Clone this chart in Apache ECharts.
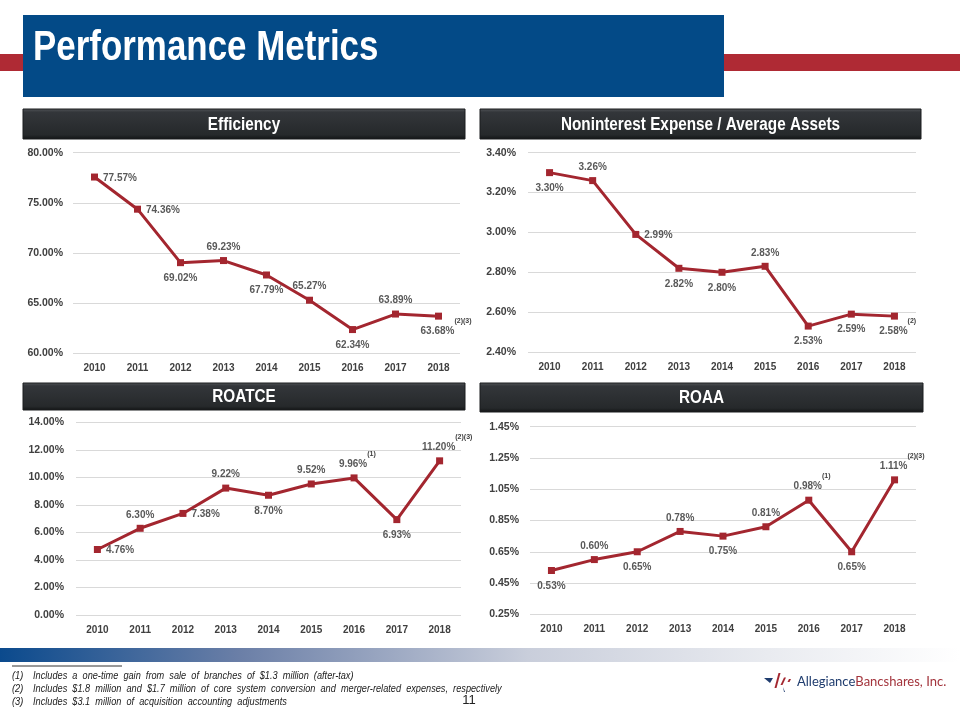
<!DOCTYPE html>
<html>
<head>
<meta charset="utf-8">
<script src="https://cdn.jsdelivr.net/npm/echarts@6/dist/echarts.min.js"></script>
<style>html,body{margin:0;padding:0;background:#fff}#c{width:960px;height:720px}</style>
</head>
<body>
<div id="c"></div>
<script>
// ---------------- DATA ----------------
const years = ['2010', '2011', '2012', '2013', '2014', '2015', '2016', '2017', '2018'];

const efficiency    = [77.57, 74.36, 69.02, 69.23, 67.79, 65.27, 62.34, 63.89, 63.68];
const nonintExpense = [3.30, 3.26, 2.99, 2.82, 2.80, 2.83, 2.53, 2.59, 2.58];
const roatce        = [4.76, 6.30, 7.38, 9.22, 8.70, 9.52, 9.96, 6.93, 11.20];
const roaa          = [0.53, 0.60, 0.65, 0.78, 0.75, 0.81, 0.98, 0.65, 1.11];

const efficiencyNotes = ['', '', '', '', '', '', '', '', '(2)(3)'];
const nonintNotes     = ['', '', '', '', '', '', '', '', '(2)'];
const roatceNotes     = ['', '', '', '', '', '', '(1)', '', '(2)(3)'];
const roaaNotes       = ['', '', '', '', '', '', '(1)', '', '(2)(3)'];

const efficiencyTicks = [60, 65, 70, 75, 80];
const nonintTicks     = [2.40, 2.60, 2.80, 3.00, 3.20, 3.40];
const roatceTicks     = [0, 2, 4, 6, 8, 10, 12, 14];
const roaaTicks       = [0.25, 0.45, 0.65, 0.85, 1.05, 1.25, 1.45];

const pageTitle = 'Performance Metrics';
const panelTitles = ['Efficiency', 'Noninterest Expense / Average Assets', 'ROATCE', 'ROAA'];
const footnoteMarks = ['(1)', '(2)', '(3)'];
const footnoteTexts = [
  'Includes  a  one-time  gain  from  sale  of  branches  of  $1.3  million  (after-tax)',
  'Includes  $1.8  million  and  $1.7  million  of  core  system  conversion  and  merger-related  expenses,  respectively',
  'Includes  $3.1  million  of  acquisition  accounting  adjustments'
];
const pageNumber = '11';
const logoParts = ['Allegiance', 'Bancshares, Inc.'];

// ---------------- STYLE / LAYOUT ----------------
const RED = '#A3262F';
const SANS = '"Liberation Sans", Arial, Helvetica, sans-serif';

const labelPlacement = [
  ['right', 'right', 'bottom', 'top', 'bottom', 'top', 'bottom', 'top', 'bottom'],
  ['bottom', 'top', 'right', 'bottom', 'bottom', 'top', 'bottom', 'bottom', 'bottom'],
  ['right', 'top', 'right', 'top', 'bottom', 'top', 'top', 'bottom', 'top'],
  ['bottom', 'top', 'bottom', 'top', 'bottom', 'top', 'top', 'bottom', 'top']
];

const grids = [
  { left: 73,  top: 152.7, width: 387, height: 200.3 },
  { left: 528, top: 152.7, width: 388, height: 199.3 },
  { left: 76,  top: 422.3, width: 385, height: 192.7 },
  { left: 530, top: 426.7, width: 386, height: 187.6 }
];
const yLabelMargins = [10, 12, 12, 11];

const measureCtx = document.createElement('canvas').getContext('2d');
function supWidth(t) { measureCtx.font = 'bold 7px ' + SANS; return measureCtx.measureText(t).width; }

function pct(v) { return v.toFixed(2) + '%'; }

function makeYAxis(idx, ticks) {
  return {
    type: 'value', gridIndex: idx,
    min: ticks[0], max: ticks[ticks.length - 1],
    axisLine: { show: false },
    axisTick: { show: false, customValues: ticks },
    splitLine: { show: true, lineStyle: { color: '#D9D9D9', width: 1 } },
    axisLabel: {
      customValues: ticks,
      formatter: v => pct(v),
      color: '#404040', fontSize: 10.5, fontWeight: 'bold', fontFamily: SANS,
      margin: yLabelMargins[idx]
    }
  };
}

function makeXAxis(idx) {
  return {
    type: 'category', gridIndex: idx, data: years, boundaryGap: true,
    axisLine: { show: false }, axisTick: { show: false },
    axisLabel: { color: '#404040', fontSize: 10, fontWeight: 'bold', fontFamily: SANS, margin: 10 }
  };
}

function makeSeries(idx, values, notes) {
  const places = labelPlacement[idx];
  return {
    type: 'line', xAxisIndex: idx, yAxisIndex: idx,
    symbol: 'rect', symbolSize: 7,
    lineStyle: { color: RED, width: 3 },
    itemStyle: { color: RED },
    z: 3,
    data: values.map((v, i) => {
      const lab = { position: places[i] };
      if (notes[i]) {
        const w = supWidth(notes[i]);
        const dx = (places[i] === 'top' || places[i] === 'bottom') ? w / 2 - 1 : 0;
        const dy = places[i] === 'bottom' ? -7 : 0;
        lab.offset = [dx, dy];
      }
      return { value: v, label: lab };
    }),
    label: {
      show: true, distance: 5,
      formatter: p => {
        const n = notes[p.dataIndex];
        const t = pct(p.value);
        return n ? '{v|' + t + '}{s|' + n + '}' : '{v|' + t + '}';
      },
      rich: {
        v: { color: '#595959', fontSize: 10, fontWeight: 'bold', fontFamily: SANS, lineHeight: 12, verticalAlign: 'bottom' },
        s: { color: '#404040', fontSize: 7, fontWeight: 'bold', fontFamily: SANS, lineHeight: 19, padding: [0, 0, 10, 0], verticalAlign: 'top' }
      }
    }
  };
}

// ---------------- GRAPHICS (decor) ----------------
function headerBar(x, y, w, h, text) {
  return [
    {
      type: 'rect', shape: { x: x, y: y, width: w, height: h }, z: 1,
      style: {
        fill: { type: 'linear', x: 0, y: 0, x2: 0, y2: 1, colorStops: [
          { offset: 0, color: '#55585b' }, { offset: 0.12, color: '#33363a' },
          { offset: 0.85, color: '#26292b' }, { offset: 1, color: '#111314' }] },
        stroke: '#1a1c1e', lineWidth: 1
      }
    },
    {
      type: 'text', x: x + w / 2, y: y + h / 2 + 1, z: 2, scaleX: 0.85,
      style: { text: text, fill: '#ffffff', font: 'bold 18px ' + SANS, align: 'center', verticalAlign: 'middle', textAlign: 'center', textVerticalAlign: 'middle' }
    }
  ];
}

const graphics = [
  { type: 'rect', shape: { x: 0, y: 54, width: 960, height: 17 }, style: { fill: '#AF2A34' }, z: 0 },
  { type: 'rect', shape: { x: 23, y: 15, width: 701, height: 82 }, style: { fill: '#034A87' }, z: 1 },
  { type: 'text', x: 33, y: 48, z: 2, scaleX: 0.812,
    style: { text: pageTitle, fill: '#ffffff', font: 'bold 43px ' + SANS, align: 'left', verticalAlign: 'middle', textAlign: 'left', textVerticalAlign: 'middle' } },
  ...headerBar(23, 109, 442, 30, panelTitles[0]),
  ...headerBar(480, 109, 441, 30, panelTitles[1]),
  ...headerBar(23, 383, 442, 27, panelTitles[2]),
  ...headerBar(480, 383, 443, 29, panelTitles[3]),
  { type: 'rect', shape: { x: 0, y: 648, width: 960, height: 14 }, z: 0,
    style: { fill: { type: 'linear', x: 0, y: 0, x2: 1, y2: 0, colorStops: [
      { offset: 0, color: '#0B4A8D' }, { offset: 0.25, color: '#6B7FA7' },
      { offset: 0.55, color: '#C9CEDB' }, { offset: 0.8, color: '#E9EBF0' }, { offset: 1, color: '#ffffff' }] } } },
  { type: 'line', shape: { x1: 12, y1: 666, x2: 122, y2: 666 }, style: { stroke: '#333', lineWidth: 1 } }
];
footnoteMarks.forEach((m, i) => {
  const y = 676 + i * 13;
  graphics.push({ type: 'text', x: 12, y: y, scaleX: 0.875, style: { text: m, fill: '#222', font: 'italic 10.5px ' + SANS, align: 'left', verticalAlign: 'middle', textAlign: 'left', textVerticalAlign: 'middle' } });
  graphics.push({ type: 'text', x: 33, y: y, scaleX: 0.875, style: { text: footnoteTexts[i], fill: '#222', font: 'italic 10.5px ' + SANS, align: 'left', verticalAlign: 'middle', textAlign: 'left', textVerticalAlign: 'middle' } });
});
graphics.push({ type: 'text', x: 469, y: 700, style: { text: pageNumber, fill: '#222', font: '13px ' + SANS, align: 'center', verticalAlign: 'middle', textAlign: 'center', textVerticalAlign: 'middle' } });
// logo mark
graphics.push({ type: 'polygon', shape: { points: [[764, 678], [773, 678], [770, 683]] }, style: { fill: '#1F3C6E' } });
graphics.push({ type: 'polygon', shape: { points: [[778.5, 673], [780.5, 673], [776.5, 688], [774.5, 688]] }, style: { fill: '#A3262F' } });
graphics.push({ type: 'polygon', shape: { points: [[784, 677.5], [786, 677.5], [782.5, 685], [780.5, 685]] }, style: { fill: '#A3262F' } });
graphics.push({ type: 'polygon', shape: { points: [[789, 679], [791, 679], [789.5, 682], [787.5, 682]] }, style: { fill: '#A3262F' } });
graphics.push({ type: 'polygon', shape: { points: [[783, 687], [785, 692], [784, 692]] }, style: { fill: '#1F3C6E' } });
graphics.push({ type: 'text', x: 797, y: 682,
  style: { text: '{a|' + logoParts[0] + '}{b|' + logoParts[1] + '}', align: 'left', verticalAlign: 'middle', textAlign: 'left', textVerticalAlign: 'middle',
    rich: { a: { fill: '#1F3C6E', font: '13px Lato, "Open Sans", sans-serif' }, b: { fill: '#A3343C', font: '13px Lato, "Open Sans", sans-serif' } } } });

// ---------------- OPTION ----------------
const option = {
  animation: false,
  backgroundColor: '#ffffff',
  grid: grids.map(g => Object.assign({ containLabel: false }, g)),
  xAxis: [0, 1, 2, 3].map(makeXAxis),
  yAxis: [makeYAxis(0, efficiencyTicks), makeYAxis(1, nonintTicks), makeYAxis(2, roatceTicks), makeYAxis(3, roaaTicks)],
  series: [
    makeSeries(0, efficiency, efficiencyNotes),
    makeSeries(1, nonintExpense, nonintNotes),
    makeSeries(2, roatce, roatceNotes),
    makeSeries(3, roaa, roaaNotes)
  ],
  graphic: graphics
};

const chart = echarts.init(document.getElementById('c'), null, { renderer: 'canvas' });
chart.setOption(option);
</script>
</body>
</html>
